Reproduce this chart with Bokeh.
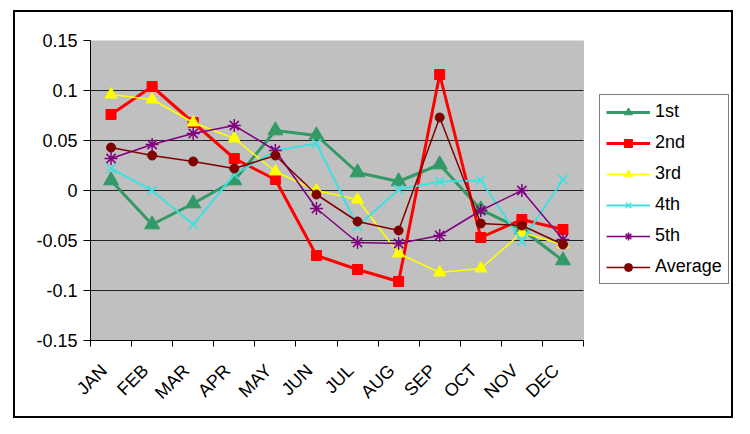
import math
from bokeh.plotting import figure
from bokeh.models import Range1d, FixedTicker, Legend, BoxAnnotation
from bokeh.embed import file_html
from bokeh.resources import INLINE

months = ["JAN", "FEB", "MAR", "APR", "MAY", "JUN", "JUL", "AUG", "SEP", "OCT", "NOV", "DEC"]
s1 = [0.010, -0.034, -0.013, 0.010, 0.060, 0.055, 0.018, 0.009, 0.026, -0.019, -0.039, -0.070]
s2 = [0.076, 0.104, 0.068, 0.032, 0.011, -0.065, -0.079, -0.091, 0.116, -0.047, -0.029, -0.039]
s3 = [0.096, 0.091, 0.068, 0.052, 0.019, 0.000, -0.009, -0.063, -0.082, -0.078, -0.042, -0.054]
s4 = [0.022, 0.000, -0.034, 0.016, 0.040, 0.047, -0.036, 0.001, 0.009, 0.010, -0.051, 0.011]
s5 = [0.032, 0.046, 0.057, 0.065, 0.040, -0.018, -0.052, -0.053, -0.045, -0.020, 0.000, -0.049]
avg = [0.043, 0.035, 0.029, 0.022, 0.035, -0.004, -0.031, -0.040, 0.073, -0.033, -0.035, -0.054]
y_ticks = [-0.15, -0.1, -0.05, 0, 0.05, 0.1, 0.15]
y_labels = ["-0.15", "-0.1", "-0.05", "0", "0.05", "0.1", "0.15"]

FONT = "Liberation Sans"

n = len(months)
x = [i + 0.5 for i in range(n)]
label_pos = [xi - 0.17 for xi in x]   # rotated labels sit slightly left of the category centre

# layout (pixels)
W, H = 734, 418
LEFT, TOP, BOTTOM, RIGHT = 90, 40, 78, 4
PLOT_W = 493                      # width of the grey plot area
FRAME_W = W - LEFT - RIGHT        # frame also holds the legend area
x_end = n * FRAME_W / PLOT_W

p = figure(width=W, height=H, output_backend="svg", toolbar_location=None,
           x_range=Range1d(0, x_end), y_range=Range1d(y_ticks[0], y_ticks[-1]),
           min_border_left=LEFT, min_border_right=RIGHT, min_border_top=TOP,
           min_border_bottom=BOTTOM)

# outer chart box (black, 2px) drawn behind a transparent canvas
p.styles = {
    "background-color": "white",
    "background-image": ("linear-gradient(black, black), linear-gradient(black, black), "
                         "linear-gradient(black, black), linear-gradient(black, black)"),
    "background-size": "720px 2px, 720px 2px, 2px 408px, 2px 408px",
    "background-position": "13px 10px, 13px 416px, 13px 10px, 731px 10px",
    "background-repeat": "no-repeat",
}

p.background_fill_alpha = 0
p.border_fill_alpha = 0
p.outline_line_color = None
p.xgrid.visible = False
p.ygrid.visible = False

# grey plot area
p.add_layout(BoxAnnotation(left=0, right=n, bottom=y_ticks[0], top=y_ticks[-1],
                           fill_color="#C0C0C0", fill_alpha=1,
                           line_color="#808080", line_width=1, level="underlay"))
# horizontal gridlines
inner = y_ticks[1:-1]
p.segment(x0=[0] * len(inner), x1=[n] * len(inner), y0=inner, y1=inner,
          line_color="#222222", line_width=1)

# x axis
xa = p.xaxis[0]
xa.bounds = (0, n)
xa.ticker = FixedTicker(ticks=label_pos, minor_ticks=list(range(n + 1)))
xa.major_label_overrides = {lp: m for lp, m in zip(label_pos, months)}
xa.major_label_orientation = math.pi / 4
xa.major_tick_line_color = None
xa.minor_tick_line_color = "black"
xa.minor_tick_in = 0
xa.minor_tick_out = 6
xa.axis_line_color = "black"
xa.major_label_text_font = FONT
xa.major_label_text_font_size = "18px"
xa.major_label_text_color = "black"
xa.major_label_standoff = 21

ya = p.yaxis[0]
ya.ticker = FixedTicker(ticks=y_ticks, minor_ticks=[])
ya.major_label_overrides = {t: l for t, l in zip(y_ticks, y_labels)}
ya.major_tick_in = 0
ya.major_tick_out = 7
ya.major_tick_line_color = "black"
ya.minor_tick_line_color = None
ya.axis_line_color = "black"
ya.major_label_text_font = FONT
ya.major_label_text_font_size = "18px"
ya.major_label_text_color = "black"
ya.major_label_standoff = 6

series = [
    ("1st", s1, "#339966", 3, "triangle", 15),
    ("2nd", s2, "#FF0000", 3, "square", 10),
    ("3rd", s3, "#FFFF00", 1.5, "triangle", 12),
    ("4th", s4, "#40E0E0", 2, "x", 13),
    ("5th", s5, "#800080", 1.5, "asterisk", 13),
    ("Average", avg, "#800000", 1.5, "circle", 9),
]

items = []
for name, ys, color, lw, marker, size in series:
    r1 = p.line(x, ys, line_color=color, line_width=lw)
    if marker in ("x", "asterisk"):
        r2 = p.scatter(x, ys, marker=marker, size=size, line_color=color, line_width=1.5, fill_color=None)
    else:
        r2 = p.scatter(x, ys, marker=marker, size=size, line_color=color, fill_color=color)
    items.append((name, [r1, r2]))

legend = Legend(items=items, location=(509, 56))
legend.label_text_font = FONT
legend.label_text_font_size = "18px"
legend.label_text_color = "black"
legend.glyph_width = 44
legend.glyph_height = 20
legend.label_height = 20
legend.label_standoff = 5
legend.spacing = 10
legend.padding = 6
legend.margin = 0
legend.border_line_color = "black"
legend.border_line_width = 1
legend.background_fill_color = "white"
legend.background_fill_alpha = 1
p.add_layout(legend)

open("out.html", "w").write(file_html(p, INLINE))
